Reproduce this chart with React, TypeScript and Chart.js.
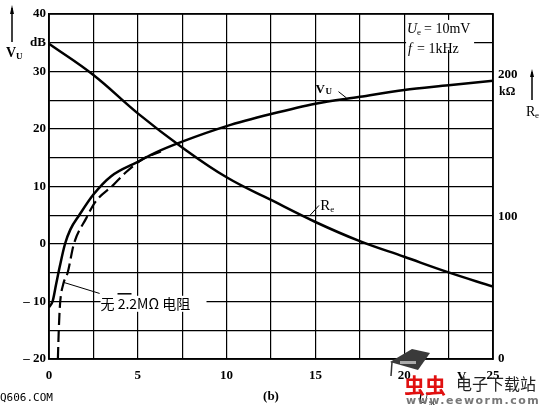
import React, { useEffect, useRef } from 'react';
import { Chart, registerables } from 'chart.js';
Chart.register(...registerables);

// V_U with 2.2 MΩ resistor (solid), dB
const vuX = [0, 0.2, 0.4, 0.6, 0.9, 1.2, 1.7, 2.5, 3.5, 5, 6, 7.5, 10, 12.5, 15, 17.5, 20, 22.5, 25];
const vuY = [-11, -10, -7, -4, 0, 2.5, 5, 8.6, 11.8, 14.3, 15.9, 17.8, 20.5, 22.6, 24.4, 25.6, 26.8, 27.6, 28.4];
// V_U without 2.2 MΩ resistor (dashed), dB
const noRX = [0.5, 0.55, 0.62, 0.8, 1.05, 1.4, 2.1, 2.6, 3.6, 4.3, 5.3, 6.3];
const noRY = [-20, -15, -10.5, -7, -5, 0, 4.5, 7.3, 10.2, 12.4, 14.8, 16.1];
// R_e, kΩ (right axis)
const reX = [0, 2.5, 5, 7.5, 10, 12.5, 15, 17.5, 20, 22.5, 25];
const reY = [222, 200, 173, 149, 128, 112, 96.5, 83, 72, 61, 51];

const rightTicks = [0, 100, 200];
const xLabelStep = 5;
const yLabelStep = 10;

const SERIF = '"Liberation Serif", "DejaVu Serif", serif';
const CJK = '"Noto Sans CJK SC", sans-serif';

const pts = (xs: number[], ys: number[]) => xs.map((x, i) => ({ x, y: ys[i] }));

export default function App() {
  const ref = useRef<HTMLCanvasElement>(null);
  useEffect(() => {
    document.body.style.margin = '0';
    const canvas = ref.current!;
    const overlay = {
      id: 'overlay',
      afterDraw(chart: any) {
        const ctx = chart.ctx as CanvasRenderingContext2D;
        const xs = chart.scales.x;
        const ys = chart.scales.y;
        const P = (x: number, y: number) => [xs.getPixelForValue(x), ys.getPixelForValue(y)];
        const a = chart.chartArea;
        ctx.save();
        // frame
        ctx.strokeStyle = '#000';
        ctx.lineWidth = 1.5;
        ctx.strokeRect(a.left, a.top, a.right - a.left, a.bottom - a.top);

        ctx.fillStyle = '#000';
        ctx.textBaseline = 'middle';
        ctx.textAlign = 'left';

        // conditions text with white background
        let [tx, ty] = P(20.05, 37.4);
        ctx.fillStyle = '#fff';
        ctx.fillRect(tx + 1, ty - 9, 68, 30);
        ctx.fillStyle = '#000';
        ctx.font = `italic 14px ${SERIF}`;
        ctx.fillText('U', tx + 2, ty);
        ctx.font = `9px ${SERIF}`;
        ctx.fillText('e', tx + 12, ty + 4);
        ctx.font = `14px ${SERIF}`;
        ctx.fillText('= 10mV', tx + 19, ty);
        [tx, ty] = P(20.05, 33.8);
        ctx.font = `italic 14px ${SERIF}`;
        ctx.fillText('f', tx + 3, ty);
        ctx.font = `14px ${SERIF}`;
        ctx.fillText('= 1kHz', tx + 12, ty);

        // V_U label on curve
        [tx, ty] = P(15.0, 26.9);
        ctx.font = `bold 13px ${SERIF}`;
        ctx.fillText('V', tx, ty);
        ctx.font = `bold 9px ${SERIF}`;
        ctx.fillText('U', tx + 10, ty + 2);
        ctx.lineWidth = 1;
        ctx.beginPath();
        let [l1x, l1y] = P(16.3, 26.5);
        let [l2x, l2y] = P(16.75, 25.4);
        ctx.moveTo(l1x, l1y);
        ctx.lineTo(l2x, l2y);
        ctx.stroke();

        // R_e label
        [tx, ty] = P(15.28, 6.6);
        ctx.font = `15px ${SERIF}`;
        ctx.fillText('R', tx, ty);
        ctx.font = `9px ${SERIF}`;
        ctx.fillText('e', tx + 10, ty + 4);
        ctx.beginPath();
        [l1x, l1y] = P(14.7, 5.0);
        [l2x, l2y] = P(15.2, 6.7);
        ctx.moveTo(l1x, l1y);
        ctx.lineTo(l2x, l2y);
        ctx.stroke();

        // annotation for dashed curve
        ctx.beginPath();
        [l1x, l1y] = P(0.85, -6.7);
        [l2x, l2y] = P(2.85, -8.6);
        ctx.moveTo(l1x, l1y);
        ctx.lineTo(l2x, l2y);
        ctx.stroke();
        [tx, ty] = P(2.9, -10.4);
        ctx.fillStyle = '#fff';
        ctx.fillRect(tx, ty - 8, 106, 16);
        ctx.fillStyle = '#000';
        ctx.font = `14px ${CJK}`;
        ctx.fillText('无 2.2MΩ 电阻', tx, ty);
        ctx.lineWidth = 1.5;
        ctx.beginPath();
        ctx.moveTo(tx + 17, ty - 10);
        ctx.lineTo(tx + 31, ty - 10);
        ctx.stroke();

        // left axis title V_U with arrow
        ctx.lineWidth = 1.5;
        ctx.beginPath();
        ctx.moveTo(12, 42);
        ctx.lineTo(12, 8);
        ctx.stroke();
        ctx.beginPath();
        ctx.moveTo(12, 5);
        ctx.lineTo(10, 14);
        ctx.lineTo(14, 14);
        ctx.closePath();
        ctx.fill();
        ctx.font = `bold 14px ${SERIF}`;
        ctx.fillText('V', 6, 53);
        ctx.font = `bold 9px ${SERIF}`;
        ctx.fillText('U', 16, 57);

        // right "kΩ"
        ctx.font = `bold 12px ${SERIF}`;
        const k200 = chart.scales.y1.getPixelForValue(200);
        ctx.fillText('kΩ', a.right + 6, k200 + 17);

        // right axis title R_e with arrow
        ctx.beginPath();
        ctx.moveTo(532, 100);
        ctx.lineTo(532, 72);
        ctx.stroke();
        ctx.beginPath();
        ctx.moveTo(532, 69);
        ctx.lineTo(530, 77);
        ctx.lineTo(534, 77);
        ctx.closePath();
        ctx.fill();
        ctx.font = `14px ${SERIF}`;
        ctx.fillText('R', 526, 112);
        ctx.font = `9px ${SERIF}`;
        ctx.fillText('e', 535, 116);

        // bottom texts
        ctx.font = `bold 13px ${SERIF}`;
        ctx.textAlign = 'center';
        ctx.fillText('(b)', 271, 397);
        ctx.textAlign = 'left';
        ctx.fillText('V', 457, 377);
        ctx.font = `italic 14px ${SERIF}`;
        ctx.fillText('U', 418, 399);
        ctx.font = `9px ${SERIF}`;
        ctx.fillText('st', 429, 403);

        // watermarks
        ctx.font = `11px "DejaVu Sans Mono", monospace`;
        ctx.fillText('Q606.COM', 0, 398);
        // hat icon
        ctx.fillStyle = '#3a3a3a';
        ctx.beginPath();
        ctx.moveTo(390, 362);
        ctx.lineTo(412, 349);
        ctx.lineTo(430, 353);
        ctx.lineTo(418, 370);
        ctx.closePath();
        ctx.fill();
        ctx.fillStyle = '#aaa';
        ctx.fillRect(400, 361, 16, 3);
        ctx.strokeStyle = '#333';
        ctx.lineWidth = 1.5;
        ctx.beginPath();
        ctx.moveTo(392, 362);
        ctx.lineTo(391, 376);
        ctx.stroke();
        ctx.fillStyle = '#e01010';
        ctx.font = `bold 21px ${CJK}`;
        ctx.fillText('虫虫', 404, 385);
        ctx.fillStyle = '#222';
        ctx.font = `16px ${CJK}`;
        ctx.fillText('电子下载站', 456, 384);
        ctx.fillStyle = '#777';
        ctx.font = `bold 11px "DejaVu Sans", sans-serif`;
        (ctx as any).letterSpacing = '1.5px';
        ctx.fillText('www.eeworm.com', 406, 401);
        (ctx as any).letterSpacing = '0px';
        ctx.restore();
      },
    };

    const tickFont = { family: SERIF, size: 13, weight: 'bold' as const };
    const chart = new Chart(canvas, {
      type: 'line',
      data: {
        datasets: [
          {
            label: 'V_U',
            data: pts(vuX, vuY),
            borderColor: '#000',
            borderWidth: 2.5,
            pointRadius: 0,
            cubicInterpolationMode: 'monotone',
            yAxisID: 'y',
          },
          {
            label: '无 2.2MΩ 电阻',
            data: pts(noRX, noRY),
            borderColor: '#000',
            borderWidth: 2.2,
            borderDash: [12, 5],
            pointRadius: 0,
            cubicInterpolationMode: 'monotone',
            yAxisID: 'y',
          },
          {
            label: 'R_e',
            data: pts(reX, reY),
            borderColor: '#000',
            borderWidth: 2.5,
            pointRadius: 0,
            tension: 0.4,
            yAxisID: 'y1',
          },
        ],
      },
      options: {
        responsive: false,
        animation: false,
        parsing: false as any,
        layout: { padding: { top: 14, left: 0, right: 0, bottom: 0 } },
        plugins: { legend: { display: false }, tooltip: { enabled: false } },
        scales: {
          x: {
            type: 'linear',
            min: 0,
            max: 25,
            afterFit: (s: any) => { s.height = 46; },
            grid: { color: '#000', lineWidth: 1.2, drawTicks: false },
            border: { display: true, color: '#000', width: 1.5 },
            ticks: {
              stepSize: 2.5,
              autoSkip: false,
              maxRotation: 0,
              padding: 9,
              color: '#000',
              font: tickFont,
              callback: (v: any) => (Number(v) % xLabelStep === 0 ? String(v) : ''),
            },
          },
          y: {
            type: 'linear',
            position: 'left',
            min: -20,
            max: 40,
            afterFit: (s: any) => { s.width = 49; },
            grid: { color: '#000', lineWidth: 1.2, drawTicks: false },
            border: { display: true, color: '#000', width: 1.5 },
            ticks: {
              stepSize: 5,
              autoSkip: false,
              padding: 3,
              color: '#000',
              font: tickFont,
              callback: (v: any) => {
                const n = Number(v);
                if (n === 35) return 'dB';
                if (n % yLabelStep !== 0) return '';
                return n < 0 ? '– ' + Math.abs(n) : String(n);
              },
            },
          },
          y1: {
            type: 'linear',
            position: 'right',
            min: 0,
            max: 243,
            afterFit: (s: any) => { s.width = 47; },
            afterBuildTicks: (s: any) => { s.ticks = rightTicks.map((v) => ({ value: v })); },
            grid: { display: false, drawTicks: false },
            border: { display: true, color: '#000', width: 1.5 },
            ticks: {
              autoSkip: false,
              padding: 5,
              color: '#000',
              font: tickFont,
              callback: (v: any) => String(v),
            },
          },
        },
      },
      plugins: [overlay],
    } as any);
    return () => chart.destroy();
  }, []);
  return (
    <div style={{ width: 540, height: 405, position: 'relative', background: '#fff' }}>
      <canvas ref={ref} width={540} height={405} style={{ width: 540, height: 405, display: 'block' }} />
    </div>
  );
}
